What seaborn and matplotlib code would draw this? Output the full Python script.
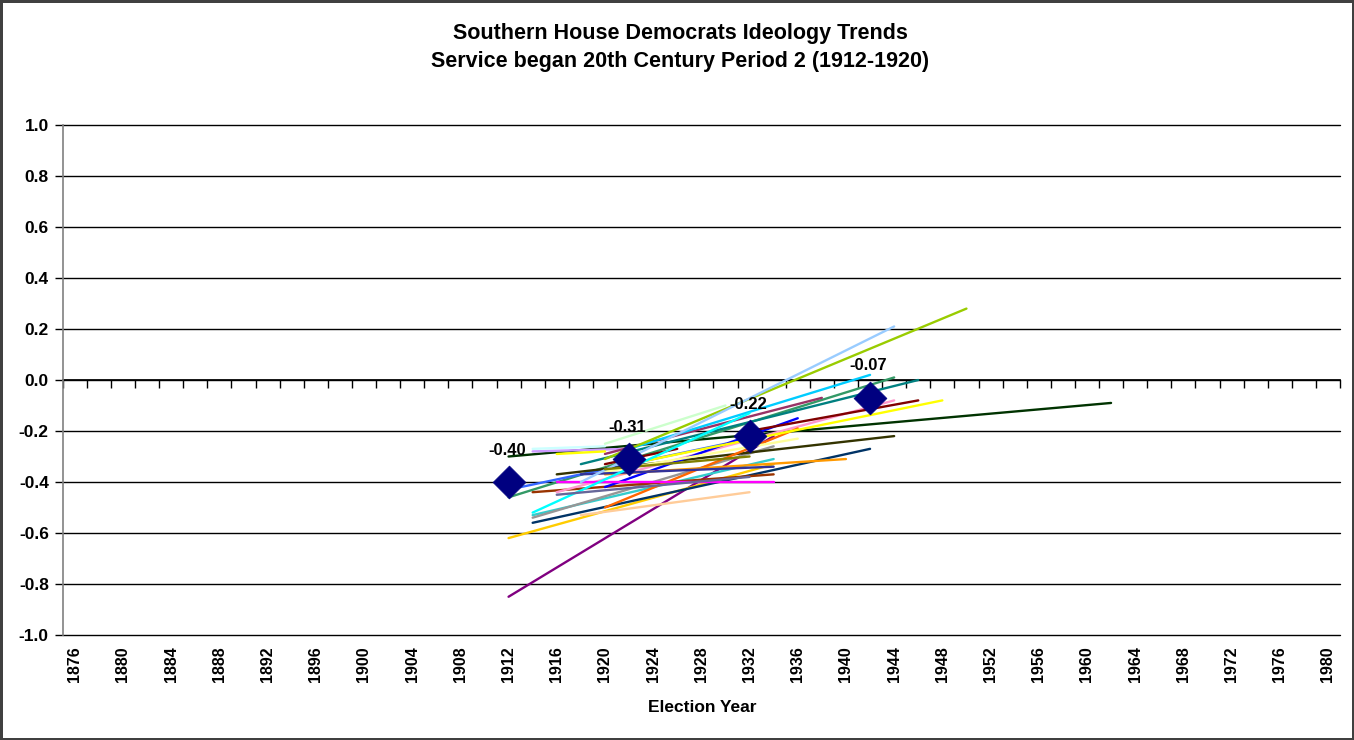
import numpy as np
import pandas as pd
import matplotlib
matplotlib.use("Agg")
import matplotlib.pyplot as plt
import seaborn as sns

# --- Données : une ligne de tendance par représentant (début / fin de service) ---
start_years = [1912, 1912, 1912, 1912, 1912, 1914, 1914, 1914, 1914, 1914,
               1914, 1916, 1916, 1920, 1918, 1920, 1920, 1920, 1920, 1916,
               1920, 1922, 1918, 1920, 1918, 1922, 1914, 1920, 1918, 1932,
               1916, 1916, 1920]
end_years = [1934, 1962, 1944, 1934, 1930, 1922, 1920, 1934, 1934, 1942,
             1934, 1944, 1944, 1930, 1946, 1938, 1926, 1936, 1936, 1934,
             1936, 1948, 1932, 1940, 1934, 1942, 1932, 1950, 1944, 1946,
             1920, 1932, 1932]
start_vals = [-0.85, -0.30, -0.46, -0.62, -0.43, -0.28, -0.27, -0.53, -0.54, -0.56,
              -0.44, -0.37, -0.44, -0.25, -0.33, -0.29, -0.33, -0.50, -0.42, -0.40,
              -0.36, -0.33, -0.53, -0.37, -0.37, -0.27, -0.52, -0.31, -0.40, -0.20,
              -0.29, -0.45, -0.35]
end_vals = [-0.22, -0.09, 0.01, -0.33, -0.25, -0.27, -0.26, -0.31, -0.26, -0.27,
            -0.37, -0.22, -0.08, -0.10, 0.00, -0.07, -0.27, -0.19, -0.15, -0.40,
            -0.23, -0.08, -0.44, -0.31, -0.34, 0.02, -0.13, 0.28, 0.21, -0.08,
            -0.28, -0.38, -0.30]

# moyennes par décennie (losanges)
mean_years = [1912, 1922, 1932, 1942]
mean_vals = [-0.40, -0.31, -0.22, -0.07]

year_ticks = list(range(1876, 1981, 4))
score_ticks = [-1.0, -0.8, -0.6, -0.4, -0.2, 0.0, 0.2, 0.4, 0.6, 0.8, 1.0]

# couleurs des séries (palette Excel)
line_colors = ["#800080", "#003300", "#339966", "#FFCC00", "#3366FF", "#CC99FF",
               "#CCFFFF", "#33CCCC", "#969696", "#003366", "#993300", "#333300",
               "#FF99CC", "#CCFFCC", "#008080", "#993366", "#800000", "#FF6600",
               "#0000FF", "#FF00FF", "#FFFF99", "#FFFF00", "#FFCC99", "#FF9900",
               "#333399", "#00CCFF", "#00FFFF", "#99CC00", "#99CCFF", "#800000",
               "#FFFF00", "#666699", "#808000"]

rows = []
for i in range(len(start_years)):
    name = f"m{i:02d}"
    rows.append({"member": name, "year": start_years[i], "score": start_vals[i]})
    rows.append({"member": name, "year": end_years[i], "score": end_vals[i]})
df = pd.DataFrame(rows)

sns.set_theme(style="white")
plt.rcParams["font.family"] = ["Liberation Sans", "DejaVu Sans"]
plt.rcParams["font.weight"] = "bold"
plt.rcParams["text.color"] = "black"
plt.rcParams["xtick.color"] = "black"
plt.rcParams["ytick.color"] = "black"

W, H = 1354, 740
fig = plt.figure(figsize=(W / 100, H / 100), dpi=100)
fig.patch.set_edgecolor("#404040")
fig.patch.set_linewidth(2.5)

x0, x1, ytop, ybot = 62.7, 1340, 125, 635
ax = fig.add_axes([x0 / W, 1 - ybot / H, (x1 - x0) / W, (ybot - ytop) / H])

# grille horizontale
for v in score_ticks:
    ax.axhline(v, color="black", lw=1.0, zorder=1, clip_on=False)

sns.lineplot(data=df, x="year", y="score", hue="member", palette=line_colors,
             legend=False, linewidth=1.7, estimator=None, sort=False, ax=ax, zorder=3)

sns.scatterplot(x=mean_years, y=mean_vals, marker="D", s=280, color="#000080",
                edgecolor="#000080", linewidth=0.5, ax=ax, zorder=5)

for yr, v in zip(mean_years, mean_vals):
    ax.annotate(f"{v:.2f}", (yr, v), xytext=(-1, 23), textcoords="offset points",
                ha="center", va="center", fontsize=12, fontweight="bold",
                color="black", zorder=6)

ax.set_xlim(1875, 1981)
ax.set_ylim(-1, 1)
ax.set_yticks(score_ticks)
ax.set_yticklabels([f"{v:.1f}" for v in score_ticks])
ax.set_xticks(year_ticks)
ax.set_xticklabels([str(y) for y in year_ticks], rotation=90)
ax.tick_params(axis="x", length=0, pad=8, labelsize=11.5)
ax.tick_params(axis="y", length=6, width=1, color="black", direction="out",
               left=True, pad=4, labelsize=12.5)
for lbl in ax.get_xticklabels() + ax.get_yticklabels():
    lbl.set_fontweight("bold")
ax.set_xlabel("")
ax.set_ylabel("")
for side in ["top", "right", "bottom"]:
    ax.spines[side].set_visible(False)
ax.spines["left"].set_color("#808080")
ax.spines["left"].set_linewidth(1.2)

# axe des catégories à y = 0 avec petites graduations
sec = ax.secondary_xaxis(0.5)
sec.set_alignment("bottom")
sec.set_xticks(list(range(1875, 1982, 2)))
sec.set_xticklabels([])
sec.tick_params(axis="x", direction="out", length=6, width=1, color="black")
sec.spines["bottom"].set_color("black")

fig.text(680 / W, 1 - 33 / H, "Southern House Democrats Ideology Trends",
         ha="center", va="center", fontsize=15.5, fontweight="bold")
fig.text(680 / W, 1 - 61 / H, "Service began 20th Century Period 2 (1912-1920)",
         ha="center", va="center", fontsize=15.5, fontweight="bold")
fig.text(702 / W, 1 - 707 / H, "Election Year", ha="center", va="center",
         fontsize=12.5, fontweight="bold")

plt.savefig("out.png", dpi=100)
